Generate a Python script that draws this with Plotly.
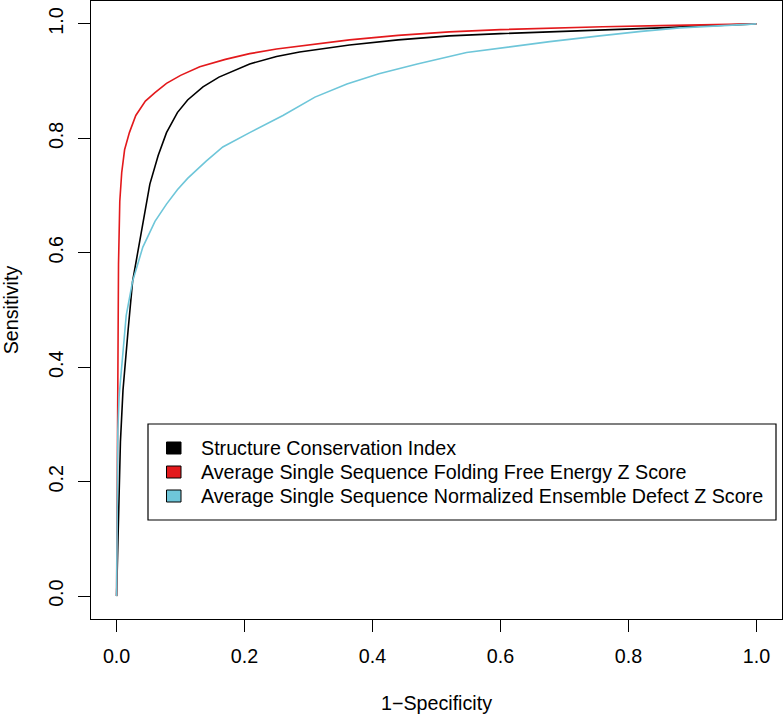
import plotly.graph_objects as go

# ROC curve data
sci_fpr = [0, 0.001, 0.002, 0.004, 0.006, 0.01, 0.014, 0.018, 0.025, 0.033, 0.041, 0.052, 0.065,
           0.078, 0.095, 0.111, 0.135, 0.16, 0.208, 0.25, 0.286, 0.364, 0.44, 0.52, 0.6, 0.677,
           0.76, 0.85, 0.93, 1.0]
sci_tpr = [0, 0.04, 0.08, 0.17, 0.27, 0.36, 0.42, 0.465, 0.55, 0.60, 0.645, 0.72, 0.77,
           0.81, 0.845, 0.867, 0.89, 0.907, 0.93, 0.943, 0.951, 0.963, 0.972, 0.979, 0.983, 0.986,
           0.989, 0.993, 0.997, 1.0]

mfe_fpr = [0, 0.0005, 0.001, 0.002, 0.003, 0.005, 0.008, 0.0125, 0.02, 0.03, 0.045, 0.06, 0.078,
           0.1, 0.13, 0.17, 0.208, 0.25, 0.3, 0.364, 0.44, 0.52, 0.6, 0.677, 0.76, 0.85, 0.93, 1.0]
mfe_tpr = [0, 0.15, 0.3, 0.45, 0.58, 0.69, 0.74, 0.78, 0.81, 0.84, 0.865, 0.88, 0.896,
           0.91, 0.925, 0.938, 0.948, 0.956, 0.963, 0.972, 0.98, 0.986, 0.99, 0.993, 0.995, 0.997,
           0.999, 1.0]

ned_fpr = [0, 0.0005, 0.001, 0.002, 0.004, 0.008, 0.015, 0.025, 0.041, 0.06, 0.078, 0.095, 0.111,
           0.14, 0.166, 0.208, 0.26, 0.31, 0.36, 0.41, 0.47, 0.547, 0.625, 0.677, 0.755, 0.82,
           0.88, 0.94, 1.0]
ned_tpr = [0, 0.1, 0.18, 0.29, 0.35, 0.40, 0.49, 0.55, 0.61, 0.655, 0.685, 0.71, 0.73,
           0.76, 0.785, 0.81, 0.84, 0.872, 0.895, 0.913, 0.93, 0.95, 0.962, 0.969, 0.979, 0.987,
           0.993, 0.997, 1.0]

series_names = [
    "Structure Conservation Index",
    "Average Single Sequence Folding Free Energy Z Score",
    "Average Single Sequence Normalized Ensemble Defect Z Score",
]
series_colors = ["#000000", "#e3191c", "#6ec6d9"]
series_x = [sci_fpr, mfe_fpr, ned_fpr]
series_y = [sci_tpr, mfe_tpr, ned_tpr]

tick_vals = [0.0, 0.2, 0.4, 0.6, 0.8, 1.0]
tick_text = ["0.0", "0.2", "0.4", "0.6", "0.8", "1.0"]

FONT = "Liberation Sans, Arial, Helvetica, sans-serif"
FS = 19.7

W, H = 783, 715
ML, MR, MT, MB = 91, 1, 1, 96
PW, PH = W - ML - MR, H - MT - MB


def px_x(p):
    return (p - ML) / PW


def px_y(p):
    return (H - MB - p) / PH


fig = go.Figure()

for name, col, xs, ys in zip(series_names, series_colors, series_x, series_y):
    fig.add_trace(go.Scatter(x=xs, y=ys, mode="lines", name=name,
                             line=dict(color=col, width=1.6),
                             showlegend=False, hoverinfo="skip"))

# R-style legend box (filled square keys) in paper coordinates
leg_left, leg_right, leg_top, leg_bottom = 148, 776, 424, 520
row_y = [448, 472, 496]
key_x0, key_x1, key_half = 166.5, 181, 6
text_x = 199

shapes = [dict(type="rect", xref="paper", yref="paper",
               x0=px_x(leg_left), x1=px_x(leg_right), y0=px_y(leg_bottom), y1=px_y(leg_top),
               line=dict(color="black", width=1.2), fillcolor="white", layer="above")]
annotations = []
for name, col, ry in zip(series_names, series_colors, row_y):
    shapes.append(dict(type="rect", xref="paper", yref="paper",
                       x0=px_x(key_x0), x1=px_x(key_x1),
                       y0=px_y(ry + key_half), y1=px_y(ry - key_half),
                       line=dict(color="black", width=1), fillcolor=col, layer="above"))
    annotations.append(dict(xref="paper", yref="paper", x=px_x(text_x), y=px_y(ry),
                            xanchor="left", yanchor="middle", showarrow=False, text=name,
                            font=dict(family=FONT, size=FS, color="black")))

axis_common = dict(
    showgrid=False, zeroline=False, showline=True, linecolor="black", linewidth=1.2,
    mirror=True, ticks="outside", ticklen=12, tickwidth=1.2, tickcolor="black",
    tickvals=tick_vals, ticktext=tick_text, ticklabelstandoff=7,
    tickfont=dict(family=FONT, size=FS, color="black"),
)

fig.update_layout(
    width=W, height=H,
    margin=dict(l=ML, r=MR, t=MT, b=MB),
    paper_bgcolor="white", plot_bgcolor="white",
    font=dict(family=FONT, size=FS, color="black"),
    xaxis=dict(range=[-0.04, 1.04], title=dict(text="1\u2212Specificity",
               font=dict(family=FONT, size=FS), standoff=30), **axis_common),
    yaxis=dict(range=[-0.04, 1.04], tickangle=-90, title=dict(text="Sensitivity",
               font=dict(family=FONT, size=FS), standoff=22), **axis_common),
    shapes=shapes,
    annotations=annotations,
    showlegend=False,
)

fig.write_html("out.html", config={"displayModeBar": False},
               post_script="document.body.style.margin='0';"
               "document.body.style.padding='0';")
